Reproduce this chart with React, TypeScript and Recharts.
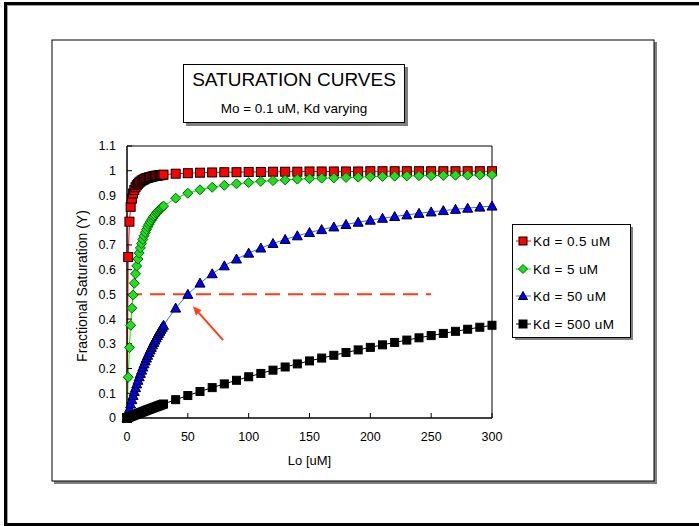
import React from 'react';
import { LineChart, Line, XAxis, YAxis, ReferenceLine, ReferenceArea } from 'recharts';

const loValues = [
  0, 1, 2, 3, 4, 5, 6, 7, 8, 9, 10, 11, 12, 13, 14, 15, 16, 17, 18, 19, 20,
  21, 22, 23, 24, 25, 26, 27, 28, 29, 30,
  40, 50, 60, 70, 80, 90, 100, 110, 120, 130, 140, 150, 160, 170, 180, 190, 200,
  210, 220, 230, 240, 250, 260, 270, 280, 290, 300,
];

const kd05 = [
  0, 0.651, 0.794, 0.854, 0.887, 0.908, 0.922, 0.933, 0.941, 0.947, 0.952,
  0.956, 0.96, 0.963, 0.965, 0.968, 0.97, 0.971, 0.973, 0.974, 0.975,
  0.977, 0.978, 0.979, 0.98, 0.98, 0.981, 0.982, 0.982, 0.983, 0.984,
  0.988, 0.99, 0.992, 0.993, 0.994, 0.994, 0.995, 0.995, 0.996, 0.996, 0.996, 0.997,
  0.997, 0.997, 0.997, 0.997, 0.998, 0.998, 0.998, 0.998, 0.998, 0.998, 0.998,
  0.998, 0.998, 0.998, 0.998,
];

const kd5 = [
  0, 0.165, 0.285, 0.375, 0.444, 0.497, 0.545, 0.583, 0.615, 0.643, 0.667,
  0.688, 0.706, 0.722, 0.737, 0.75, 0.762, 0.773, 0.783, 0.792, 0.8,
  0.808, 0.815, 0.821, 0.828, 0.833, 0.839, 0.844, 0.848, 0.853, 0.857,
  0.889, 0.909, 0.923, 0.933, 0.941, 0.947, 0.952, 0.957, 0.96, 0.963, 0.966, 0.968,
  0.97, 0.971, 0.973, 0.974, 0.976, 0.977, 0.978, 0.979, 0.98, 0.98, 0.981,
  0.982, 0.982, 0.983, 0.984,
];

const kd50 = [
  0, 0.0196, 0.0385, 0.0566, 0.0741, 0.0909, 0.1071, 0.1228, 0.1379, 0.1525, 0.1667,
  0.1803, 0.1935, 0.2063, 0.2188, 0.2308, 0.2424, 0.2537, 0.2647, 0.2754, 0.2857,
  0.2958, 0.3056, 0.3151, 0.3243, 0.3333, 0.3421, 0.3506, 0.359, 0.3671, 0.375,
  0.4444, 0.5, 0.5455, 0.5833, 0.6154, 0.6429, 0.6667, 0.6875, 0.7059, 0.7222, 0.7368, 0.75,
  0.7619, 0.7727, 0.7826, 0.7917, 0.8, 0.8077, 0.8148, 0.8214, 0.8276, 0.8333, 0.8387,
  0.8438, 0.8485, 0.8529, 0.8571,
];

const kd500 = [
  0, 0.002, 0.004, 0.006, 0.0079, 0.0099, 0.0119, 0.0138, 0.0157, 0.0177, 0.0196,
  0.0215, 0.0234, 0.0253, 0.0272, 0.0291, 0.031, 0.0329, 0.0347, 0.0366, 0.0385,
  0.0403, 0.0421, 0.044, 0.0458, 0.0476, 0.0494, 0.0512, 0.053, 0.0548, 0.0566,
  0.0741, 0.0909, 0.1071, 0.1228, 0.1379, 0.1525, 0.1667, 0.1803, 0.1935, 0.2063, 0.2188, 0.2308,
  0.2424, 0.2537, 0.2647, 0.2754, 0.2857, 0.2958, 0.3056, 0.3151, 0.3243, 0.3333, 0.3421,
  0.3506, 0.359, 0.3671, 0.375,
];

const xTicks = [0, 50, 100, 150, 200, 250, 300];
const yTicks = [0, 0.1, 0.2, 0.3, 0.4, 0.5, 0.6, 0.7, 0.8, 0.9, 1, 1.1];
const seriesNames = ['Kd = 0.5 uM', 'Kd = 5 uM', 'Kd = 50 uM', 'Kd = 500 uM'];
const halfLine = [{ x: 0, y: 0.5 }, { x: 250, y: 0.5 }];
const arrowPoints = [{ x: 79, y: 0.315 }, { x: 54.5, y: 0.45 }];

const titleText = 'SATURATION CURVES';
const subtitleText = 'Mo = 0.1 uM, Kd varying';
const xLabel = 'Lo [uM]';
const yLabel = 'Fractional Saturation (Y)';

const data = loValues.map((lo, i) => ({
  lo,
  a: kd05[i],
  b: kd5[i],
  c: kd50[i],
  d: kd500[i],
}));

const FONT = '"Liberation Sans", Arial, Helvetica, sans-serif';
const ORANGE = '#ff3c14';

type Kind = 'square' | 'diamond' | 'triangle';

function Marker({ kind, cx, cy, fill, stroke, size }: { kind: Kind; cx: number; cy: number; fill: string; stroke: string; size: number }) {
  const h = size / 2;
  if (kind === 'square') {
    return <rect x={cx - h} y={cy - h} width={size} height={size} fill={fill} stroke={stroke} strokeWidth={1} />;
  }
  if (kind === 'diamond') {
    return (
      <polygon
        points={`${cx},${cy - h - 0.5} ${cx + h + 0.5},${cy} ${cx},${cy + h + 0.5} ${cx - h - 0.5},${cy}`}
        fill={fill}
        stroke={stroke}
        strokeWidth={1}
      />
    );
  }
  return (
    <polygon
      points={`${cx},${cy - h - 0.5} ${cx + h + 0.5},${cy + h - 0.5} ${cx - h - 0.5},${cy + h - 0.5}`}
      fill={fill}
      stroke={stroke}
      strokeWidth={1}
    />
  );
}

const series = [
  { key: 'a', line: '#ff0000', kind: 'square' as Kind, fill: '#ff0000', stroke: '#000000', size: 9 },
  { key: 'b', line: '#00ee00', kind: 'diamond' as Kind, fill: '#22dd22', stroke: '#006600', size: 9 },
  { key: 'c', line: '#3366ff', kind: 'triangle' as Kind, fill: '#0000ff', stroke: '#000000', size: 9 },
  { key: 'd', line: '#000000', kind: 'square' as Kind, fill: '#000000', stroke: '#000000', size: 8 },
];

function makeDot(s: typeof series[number]) {
  return (props: any) => {
    const { cx, cy, index } = props;
    if (cx == null || cy == null || isNaN(cx) || isNaN(cy)) return <g key={`${s.key}-${index}`} />;
    return (
      <g key={`${s.key}-${index}`}>
        <Marker kind={s.kind} cx={cx} cy={cy} fill={s.fill} stroke={s.stroke} size={s.size} />
      </g>
    );
  };
}

function ArrowShape(props: any) {
  const x1 = props.x1 ?? props.points?.[0]?.x;
  const y1 = props.y1 ?? props.points?.[0]?.y;
  const x2 = props.x2 ?? props.points?.[1]?.x;
  const y2 = props.y2 ?? props.points?.[1]?.y;
  if ([x1, y1, x2, y2].some((v) => v == null || isNaN(v))) return null;
  const dx = x2 - x1;
  const dy = y2 - y1;
  const len = Math.sqrt(dx * dx + dy * dy) || 1;
  const ux = dx / len;
  const uy = dy / len;
  const hl = 8;
  const hw = 3.5;
  const bx = x2 - ux * hl;
  const by = y2 - uy * hl;
  const p1 = `${bx - uy * hw},${by + ux * hw}`;
  const p2 = `${bx + uy * hw},${by - ux * hw}`;
  return (
    <g>
      <line x1={x1} y1={y1} x2={bx} y2={by} stroke={ORANGE} strokeWidth={2} />
      <polygon points={`${x2},${y2} ${p1} ${p2}`} fill={ORANGE} stroke={ORANGE} strokeWidth={0.5} />
    </g>
  );
}

function Backdrop() {
  const legendX = 512;
  const legendY = 224;
  const legendW = 118;
  const legendH = 113;
  const rowY = [241, 269, 296, 324];
  return (
    <svg width={699} height={526} style={{ position: 'absolute', left: 0, top: 0 }}>
      <rect x={0} y={0} width={699} height={526} fill="#ffffff" />
      {/* outer frame */}
      <rect x={4} y={2} width={695} height={3} fill="#000000" />
      <rect x={4} y={2} width={3} height={524} fill="#000000" />
      <rect x={4} y={523} width={695} height={3} fill="#000000" />
      <rect x={7} y={5} width={692} height={1} fill="#a0a0a0" />
      <rect x={7} y={5} width={1} height={518} fill="#a0a0a0" />
      {/* chart area */}
      <rect x={54} y={42} width={603} height={442} fill="#808080" />
      <rect x={52} y={40} width={602} height={441} fill="#ffffff" stroke="#000000" strokeWidth={1} />
      {/* title box */}
      <rect x={186} y={67} width={222} height={59} fill="#808080" />
      <rect x={183.5} y={64.5} width={221} height={58} fill="#ffffff" stroke="#000000" strokeWidth={1} />
      <text x={294} y={86} textAnchor="middle" fontFamily={FONT} fontSize={19} fill="#000000">
        {titleText}
      </text>
      <text x={294} y={113} textAnchor="middle" fontFamily={FONT} fontSize={13.5} fill="#000000">
        {subtitleText}
      </text>
      {/* legend */}
      <rect x={legendX + 3} y={legendY + 3} width={legendW} height={legendH} fill="#808080" />
      <rect x={legendX + 0.5} y={legendY + 0.5} width={legendW} height={legendH} fill="#ffffff" stroke="#000000" strokeWidth={1} />
      {series.map((s, i) => (
        <g key={s.key}>
          <line x1={516} y1={rowY[i]} x2={531} y2={rowY[i]} stroke={s.line} strokeWidth={1} />
          <Marker kind={s.kind} cx={523} cy={rowY[i]} fill={s.fill} stroke={s.stroke} size={8} />
          <text x={533} y={rowY[i] + 5} fontFamily={FONT} fontSize={13.5} letterSpacing={0.4} fill="#000000">
            {seriesNames[i]}
          </text>
        </g>
      ))}
      {/* y axis title */}
      <text
        x={82}
        y={286}
        transform="rotate(-90 82 286)"
        textAnchor="middle"
        dominantBaseline="central"
        fontFamily={FONT}
        fontSize={14}
        fill="#000000"
      >
        {yLabel}
      </text>
    </svg>
  );
}

export default function App() {
  return (
    <div style={{ position: 'absolute', left: 0, top: 0, width: 699, height: 526, background: '#ffffff', fontFamily: FONT }}>
      <Backdrop />
      <div style={{ position: 'absolute', left: 0, top: 0 }}>
        <LineChart
          width={699}
          height={526}
          data={data}
          margin={{ top: 146, right: 207, bottom: 61, left: 67 }}
          style={{ fontFamily: FONT }}
        >
          <ReferenceArea x1={0} x2={300} y1={0} y2={1.1} fill="#ffffff" fillOpacity={1} stroke="#000000" strokeWidth={1} />
          <XAxis
            dataKey="lo"
            type="number"
            domain={[0, 300]}
            ticks={xTicks}
            interval={0}
            height={47}
            tickSize={-5}
            tickMargin={19}
            axisLine={{ stroke: '#000000' }}
            tickLine={{ stroke: '#000000' }}
            tick={{ fill: '#000000', fontSize: 12.5 }}
            label={{ value: xLabel, position: 'insideBottom', offset: 0, fill: '#000000', fontSize: 13 }}
          />
          <YAxis
            type="number"
            domain={[0, 1.1]}
            ticks={yTicks}
            interval={0}
            width={60}
            tickSize={-5}
            tickMargin={16}
            axisLine={{ stroke: '#000000' }}
            tickLine={{ stroke: '#000000' }}
            tick={{ fill: '#000000', fontSize: 12.5 }}
            tickFormatter={(v: number) => String(Math.round(v * 10) / 10)}
          />
          {series.map((s) => (
            <Line
              key={s.key}
              type="linear"
              dataKey={s.key}
              stroke={s.line}
              strokeWidth={1}
              dot={makeDot(s)}
              activeDot={false}
              isAnimationActive={false}
              legendType="none"
            />
          ))}
          <ReferenceLine segment={halfLine} stroke={ORANGE} strokeWidth={2} strokeDasharray="15 8" />
          <ReferenceLine segment={arrowPoints} stroke={ORANGE} strokeWidth={2} shape={(p: any) => <ArrowShape {...p} />} />
        </LineChart>
      </div>
    </div>
  );
}
